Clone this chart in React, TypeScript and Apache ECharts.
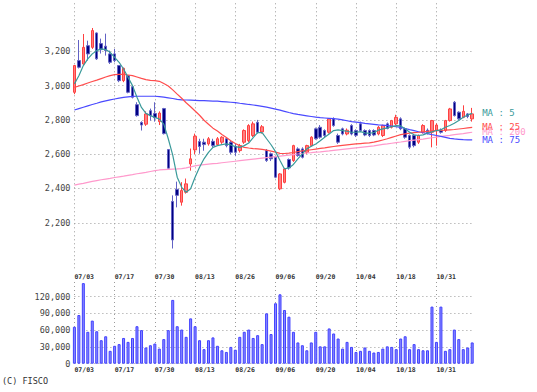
import React, { useEffect, useRef } from "react";
import * as echarts from "echarts";

const DATES = [
  "07/03","07/04","07/05","07/08","07/09","07/10","07/11","07/12","07/16","07/17",
  "07/18","07/19","07/22","07/23","07/24","07/25","07/26","07/29","07/30","07/31",
  "08/01","08/02","08/05","08/06","08/07","08/08","08/09","08/13","08/14","08/15",
  "08/16","08/19","08/20","08/21","08/22","08/23","08/26","08/27","08/28","08/29",
  "08/30","09/02","09/03","09/04","09/05","09/06","09/09","09/10","09/11","09/12",
  "09/13","09/17","09/18","09/19","09/20","09/24","09/25","09/26","09/27","09/30",
  "10/01","10/02","10/03","10/04","10/07","10/08","10/09","10/10","10/11","10/15",
  "10/16","10/17","10/18","10/21","10/22","10/23","10/24","10/25","10/28","10/29",
  "10/30","10/31","11/01","11/05","11/06","11/07","11/08","11/11","11/12","11/13",
];

const LABEL_IDX = [0, 9, 18, 27, 36, 45, 54, 63, 72, 81];

// [open, close, low, high]
const OHLC = [
  [2961,3117,2950,3120],[3146,3107,3100,3266],[3126,3223,3120,3301],[3233,3185,3146,3262],
  [3223,3321,3214,3336],[3307,3156,3150,3310],[3245,3210,3187,3274],[3230,3205,3175,3303],
  [3185,3136,3126,3204],[3185,3146,3136,3214],[3117,3029,3020,3117],[3029,3101,3020,3105],
  [3058,2961,2955,3060],[2994,2932,2925,2995],[2889,2825,2819,2903],[2785,2770,2738,2792],
  [2775,2835,2765,2850],[2854,2825,2796,2866],[2837,2813,2790,2903],[2790,2840,2770,2850],
  [2866,2720,2715,2870],[2627,2518,2515,2630],[2324,2100,2050,2360],[2395,2360,2290,2440],
  [2320,2388,2300,2437],[2378,2427,2370,2458],[2543,2573,2504,2633],[2625,2705,2600,2720],
  [2674,2645,2603,2690],[2670,2656,2620,2690],[2660,2690,2650,2700],[2675,2650,2640,2690],
  [2656,2690,2650,2700],[2670,2699,2660,2705],[2690,2650,2640,2700],[2670,2611,2600,2680],
  [2645,2611,2590,2660],[2621,2650,2610,2660],[2670,2738,2660,2745],[2679,2767,2670,2775],
  [2709,2777,2700,2790],[2786,2728,2720,2800],[2730,2760,2720,2770],[2621,2563,2555,2630],
  [2602,2573,2560,2610],[2582,2466,2460,2590],[2398,2485,2390,2490],[2436,2514,2430,2520],
  [2569,2520,2510,2575],[2563,2650,2555,2655],[2631,2592,2585,2640],[2631,2582,2575,2640],
  [2611,2650,2600,2655],[2650,2699,2645,2705],[2748,2690,2685,2755],[2757,2699,2690,2770],
  [2738,2709,2700,2745],[2728,2806,2720,2810],[2806,2767,2760,2815],[2709,2670,2660,2720],
  [2748,2718,2710,2755],[2718,2740,2710,2750],[2767,2718,2710,2775],[2738,2710,2700,2745],
  [2777,2738,2730,2790],[2738,2712,2705,2745],[2738,2709,2700,2745],[2738,2712,2705,2745],
  [2718,2757,2710,2765],[2709,2767,2700,2772],[2777,2750,2745,2785],[2757,2796,2750,2800],
  [2777,2815,2770,2830],[2806,2748,2740,2815],[2748,2699,2690,2755],[2709,2641,2630,2715],
  [2709,2650,2640,2715],[2670,2709,2660,2715],[2728,2767,2720,2775],[2740,2725,2715,2750],
  [2728,2796,2640,2800],[2740,2770,2650,2780],[2740,2728,2720,2750],[2738,2796,2730,2800],
  [2796,2864,2790,2870],[2903,2825,2820,2910],[2845,2806,2800,2850],[2815,2850,2810,2885],
  [2835,2820,2810,2840],[2806,2835,2790,2870],
];

const MA5 = [
  3010,3058,3117,3156,3185,3204,3214,3210,3194,3165,3136,3097,3048,3000,2932,2873,2838,2825,2815,2805,
  2775,2690,2595,2466,2407,2378,2398,2466,2524,2573,2611,2640,2650,2656,2660,2654,2644,2640,2650,2665,
  2697,2726,2726,2690,2655,2615,2563,2514,2520,2540,2573,2602,2631,2646,2660,2679,2699,2718,2738,2742,
  2738,2734,2728,2728,2732,2724,2722,2726,2740,2748,2754,2761,2767,2765,2748,2728,2713,2709,2713,2722,
  2730,2738,2742,2757,2767,2780,2796,2815,2829,2838,
];

const MA25 = [
  2990,2998,3006,3015,3024,3032,3041,3050,3058,3064,3066,3065,3062,3058,3050,3042,3035,3031,3029,3025,
  3012,2998,2975,2950,2926,2900,2877,2852,2827,2798,2775,2752,2735,2715,2697,2678,2662,2650,2640,2636,
  2633,2631,2628,2624,2618,2612,2605,2604,2606,2610,2615,2619,2622,2626,2630,2634,2637,2641,2645,2648,
  2651,2654,2657,2660,2662,2664,2666,2670,2676,2683,2690,2698,2706,2714,2719,2723,2726,2728,2731,2733,
  2736,2738,2739,2740,2742,2744,2747,2750,2753,2756,
];

const MA75 = [
  2858,2866,2874,2882,2890,2897,2905,2911,2917,2922,2927,2931,2934,2937,2938,2938,2938,2938,2938,2936,
  2933,2929,2925,2920,2917,2916,2915,2914,2913,2912,2911,2910,2909,2907,2905,2903,2901,2897,2894,2890,
  2887,2883,2879,2874,2869,2863,2857,2850,2843,2837,2832,2828,2824,2820,2816,2813,2811,2809,2807,2805,
  2800,2795,2790,2787,2784,2780,2777,2774,2771,2769,2767,2764,2760,2756,2750,2743,2737,2731,2725,2720,
  2714,2709,2704,2698,2692,2689,2687,2685,2684,2683,
];

const MA200 = [
  2420,2425,2430,2436,2441,2446,2451,2455,2459,2464,2468,2472,2477,2481,2486,2490,2494,2499,2504,2508,
  2510,2512,2513,2514,2516,2520,2526,2532,2536,2539,2542,2545,2547,2550,2553,2556,2559,2562,2565,2568,
  2571,2574,2577,2580,2583,2586,2589,2592,2595,2598,2601,2604,2607,2609,2612,2614,2617,2619,2622,2625,
  2628,2631,2634,2637,2640,2643,2646,2649,2653,2657,2660,2664,2668,2671,2675,2679,2682,2685,2688,2692,
  2696,2700,2704,2707,2710,2714,2717,2720,2724,2728,
];

const VOLUME = [
  66000,87000,144000,57000,77000,58000,42000,49000,23000,32000,
  35000,46000,39000,46000,67000,60000,29000,33000,36000,27000,
  44000,60000,114000,67000,61000,48000,81000,67000,42000,26000,
  42000,47000,32000,24000,21000,30000,25000,48000,57000,61000,
  46000,51000,35000,90000,53000,108000,124000,96000,84000,57000,
  38000,33000,24000,38000,57000,31000,31000,63000,54000,45000,
  27000,39000,30000,21000,23000,29000,23000,20000,21000,27000,
  31000,30000,26000,45000,49000,26000,35000,26000,24000,24000,
  102000,39000,102000,23000,26000,61000,44000,26000,29000,38000,
];

const PRICE_TICKS = [2200, 2400, 2600, 2800, 3000, 3200];
const VOLUME_TICKS = [0, 30000, 60000, 90000, 120000];

const MONO = "DejaVu Sans Mono";
const GRID_COLOR = "#9a9a9a";

function fmt(v: number) {
  return String(v).replace(/\B(?=(\d{3})+(?!\d))/g, ",");
}

export default function App() {
  const ref = useRef<HTMLDivElement>(null);

  useEffect(() => {
    if (!ref.current) return;
    const chart = echarts.init(ref.current, undefined, { renderer: "svg" });
    const showIdx = (i: number) => LABEL_IDX.indexOf(i) >= 0;
    const dotted = { type: [1, 3] as any, color: GRID_COLOR, width: 1 };

    const xAxisCommon = {
      type: "category" as const,
      data: DATES,
      boundaryGap: false,
      axisLine: { show: false },
      axisTick: { show: false },
      axisLabel: {
        interval: (i: number) => showIdx(i),
        align: "left" as const,
        fontFamily: MONO,
        fontSize: 6.5,
        fontWeight: "bold" as const,
        color: "#333",
        margin: 3,
      },
      splitLine: { show: true, interval: (i: number) => showIdx(i), lineStyle: dotted },
    };

    const maSeries = (name: string, data: number[], color: string, label: string) => ({
      type: "line",
      name,
      data,
      xAxisIndex: 0,
      yAxisIndex: 0,
      showSymbol: false,
      symbol: "none",
      smooth: false,
      lineStyle: { color, width: 1.2 },
      z: 3,
      silent: true,
      endLabel: {
        show: true,
        formatter: label,
        color,
        fontFamily: MONO,
        fontSize: 9,
        distance: 10,
      },
    });

    chart.setOption({
      animation: false,
      backgroundColor: "#ffffff",
      grid: [
        { left: 74.4, width: 397.8, top: 3.3, height: 267.5 },
        { left: 74.4, width: 397.8, top: 282, height: 81.7 },
      ],
      xAxis: [
        { ...xAxisCommon, gridIndex: 0 },
        { ...xAxisCommon, gridIndex: 1 },
      ],
      yAxis: [
        {
          type: "value",
          gridIndex: 0,
          min: 1920,
          max: 3480,
          axisLine: { show: false },
          axisTick: { show: false },
          splitLine: { show: false },
          axisLabel: {
            customValues: PRICE_TICKS,
            formatter: (v: number) => fmt(v),
            fontFamily: MONO,
            fontSize: 8.5,
            color: "#444",
            margin: 4,
          },
        },
        {
          type: "value",
          gridIndex: 1,
          min: 0,
          max: 146000,
          axisLine: { show: false },
          axisTick: { show: false },
          splitLine: { show: false },
          axisLabel: {
            customValues: VOLUME_TICKS,
            formatter: (v: number) => fmt(v),
            fontFamily: MONO,
            fontSize: 8.5,
            color: "#444",
            margin: 4,
          },
        },
      ],
      series: [
        {
          type: "candlestick",
          name: "price",
          data: OHLC,
          xAxisIndex: 0,
          yAxisIndex: 0,
          barWidth: 3,
          clip: false,
          silent: true,
          z: 2,
          itemStyle: {
            color: "#ff8080",
            borderColor: "#ff4040",
            color0: "#000080",
            borderColor0: "#6262c4",
            borderWidth: 1,
          },
          markLine: {
            silent: true,
            z: 1,
            symbol: ["none", "none"],
            label: { show: false },
            lineStyle: dotted,
            data: PRICE_TICKS.map((v) => ({ yAxis: v })),
          },
        },
        maSeries("MA200", MA200, "#ff99cc", "MA : 200"),
        maSeries("MA75", MA75, "#4a4aff", "MA : 75"),
        maSeries("MA25", MA25, "#ff4d4d", "MA : 25"),
        maSeries("MA5", MA5, "#3a9a9a", "MA : 5"),
        {
          type: "bar",
          name: "volume",
          data: VOLUME,
          xAxisIndex: 1,
          yAxisIndex: 1,
          barWidth: 3,
          silent: true,
          z: 2,
          itemStyle: { color: "#8a8aff", borderColor: "#4040ff", borderWidth: 1 },
          markLine: {
            silent: true,
            z: 1,
            symbol: ["none", "none"],
            label: { show: false },
            lineStyle: dotted,
            data: VOLUME_TICKS.map((v) => ({ yAxis: v })),
          },
        },
      ],
      graphic: [
        {
          type: "text",
          left: 2,
          top: 376,
          style: { text: "(C) FISCO", fontFamily: MONO, fontSize: 8.5, fill: "#333" },
        },
      ],
    });

    return () => chart.dispose();
  }, []);

  return (
    <div
      ref={ref}
      style={{ position: "fixed", left: 0, top: 0, width: 537, height: 392, background: "#fff" }}
    />
  );
}
